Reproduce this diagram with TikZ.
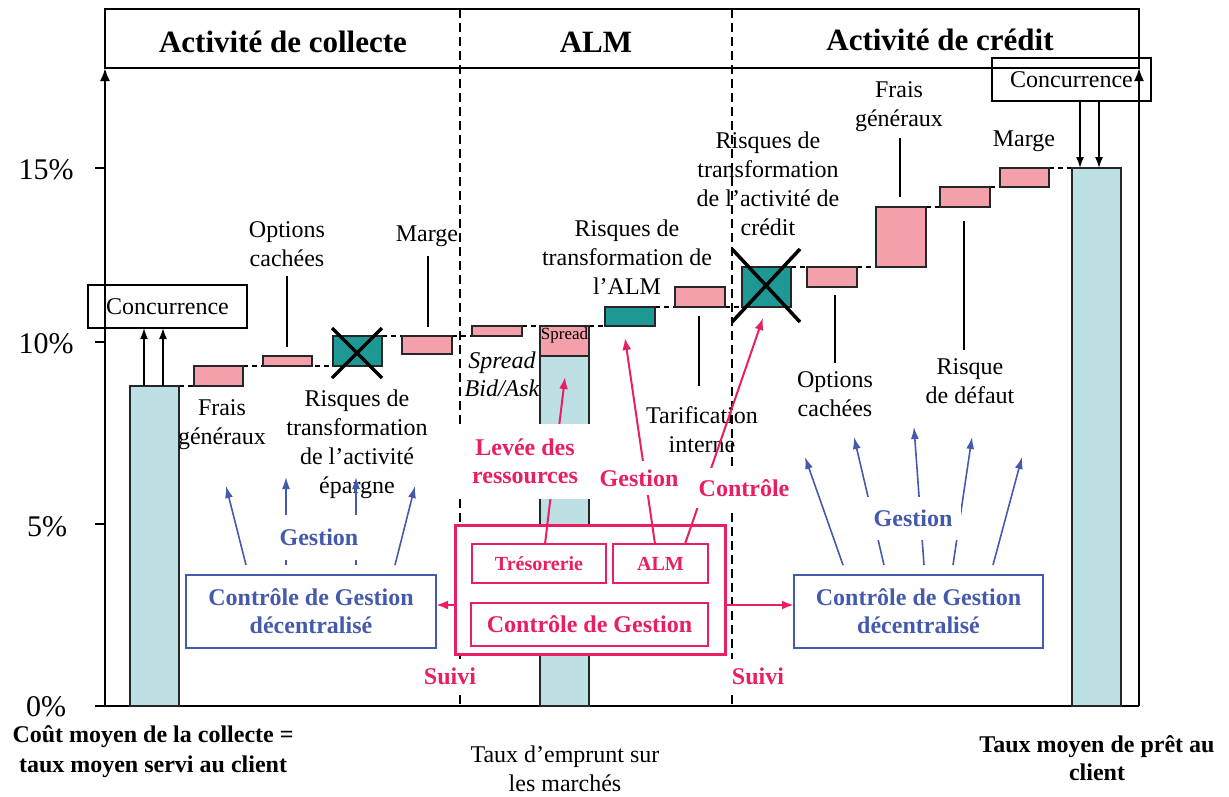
\documentclass[tikz,border=0pt]{standalone}
\usepackage{fontspec}
\setmainfont{Liberation Serif}
\usetikzlibrary{fit,arrows.meta,calc}
\definecolor{clight}{RGB}{188,224,228}
\definecolor{cpink}{RGB}{244,160,170}
\definecolor{cteal}{RGB}{30,152,148}
\definecolor{cmag}{RGB}{233,30,99}
\definecolor{cblue}{RGB}{68,90,172}
\begin{document}
\begin{tikzpicture}[x=1pt,y=-1pt,
  lbl/.style={font=\fontsize{24}{29}\selectfont, align=center, inner sep=0pt},
  ttl/.style={font=\fontsize{31}{36}\selectfont\bfseries, inner sep=0pt},
  ticklbl/.style={font=\fontsize{30}{36}\selectfont, inner sep=0pt},
  barbase/.style={draw=black!85, line width=1.2pt, inner sep=0pt, outer sep=0pt},
  lightbar/.style={barbase, fill=clight},
  pinkbar/.style={barbase, fill=cpink},
  tealbar/.style={barbase, fill=cteal},
  conn/.style={line width=1.4pt, dash pattern=on 5pt off 4pt},
  divider/.style={line width=1.5pt, dash pattern=on 9pt off 5pt},
  axisline/.style={line width=2.2pt, -{Latex[length=13pt,width=10pt]}},
  leader/.style={line width=1.3pt},
  cross/.style={line width=3.5pt},
  blk/.style={line width=1.6pt, -{Latex[length=11pt,width=8pt]}},
  bluearr/.style={draw=cblue, line width=1.6pt, -{Latex[length=12pt,width=8pt]}},
  pinkarr/.style={draw=cmag, line width=2pt, -{Latex[length=12pt,width=9pt]}},
  bluebox/.style={draw=cblue, line width=1.5pt, inner sep=0pt, outer sep=0pt},
  bluetext/.style={inner sep=0pt, text=cblue, font=\fontsize{24}{28}\selectfont\bfseries, align=center},
  pinkbox/.style={draw=cmag, line width=1.6pt, inner sep=0pt, outer sep=0pt},
  pinktext/.style={inner sep=0pt, text=cmag, font=\fontsize{20}{24}\selectfont\bfseries, align=center},
  concbox/.style={draw=black, line width=1.6pt, inner sep=0pt, outer sep=0pt},
  whitelbl/.style={fill=white, inner sep=0pt, font=\fontsize{24}{28}\selectfont\bfseries, align=center}
]
\useasboundingbox (0,0) rectangle (1229,796);

% header
\node[draw, line width=1.8pt, inner sep=0pt, outer sep=0pt, fit={(105,9)(1139,68)}] (header) {};
\node[ttl] (t1) at (283,41.5) {Activité de collecte};
\node[ttl] (t2) at (596,42) {ALM};
\node[ttl] (t3) at (940,39.5) {Activité de crédit};

% dividers
\coordinate (d1t) at (460,9);  \coordinate (d1b) at (460,706);
\coordinate (d2t) at (732,9);  \coordinate (d2b) at (732,706);
\draw[divider] (d1t) -- (d1b);
\draw[divider] (d2t) -- (d2b);

% axes
\coordinate (o) at (105,706);
\coordinate (ytop) at (105,68);
\coordinate (r0) at (1139,706);
\coordinate (rtop) at (1139,68);
\draw[line width=2.2pt] (o) -- (r0);
\draw[axisline] (o) -- (ytop);
\draw[axisline] (r0) -- (rtop);

% ticks
\foreach \yy/\name in {168/a,342/b,524/c,706/d}{
  \coordinate (tk\name) at (95,\yy);
  \draw[line width=1.8pt] (tk\name) -- (105,\yy);
}
\node[ticklbl] (l15) at (46,169.5) {15\%};
\node[ticklbl] (l10) at (46,344) {10\%};
\node[ticklbl] (l5)  at (47,527) {5\%};
\node[ticklbl] (l0)  at (46,707) {0\%};

% dashed connectors (drawn first, bars over them)
\draw[conn] (179,386) -- (194,386);
\draw[conn] (243,366) -- (333,366);
\draw[conn] (382,336) -- (402,336);
\draw[conn] (452,336) -- (472,336);
\draw[conn] (522,326) -- (540,326);
\draw[conn] (589,326) -- (605,326);
\draw[conn] (655,307) -- (675,307);
\draw[conn] (725,307) -- (742,307);
\draw[conn] (791,267) -- (807,267);
\draw[conn] (857,267) -- (876,267);
\draw[conn] (926,207) -- (940,207);
\draw[conn] (990,187) -- (1000,187);
\draw[conn] (1049,168) -- (1072,168);

% bars
\node[lightbar, fit={(130,386)(179,706)}] (blueL) {};
\node[pinkbar, fit={(194,366)(243,386)}] (fraisA) {};
\node[pinkbar, fit={(263,356)(312,366)}] (optAbar) {};
\node[tealbar, fit={(333,336)(382,366)}] (riskA) {};
\node[pinkbar, fit={(402,336)(452,354)}] (margeAbar) {};
\node[pinkbar, fit={(472,326)(522,336)}] (bidask) {};
\node[lightbar, fit={(540,356)(589,706)}] (blueM) {};
\node[pinkbar, fit={(540,326)(589,356)}, font=\fontsize{17}{19}\selectfont] (spreadM) {Spread};
\node[tealbar, fit={(605,307)(655,326)}] (almbar) {};
\node[pinkbar, fit={(675,287)(725,307)}] (tarifbar) {};
\node[tealbar, fit={(742,267)(791,307)}] (riskC) {};
\node[pinkbar, fit={(807,267)(857,287)}] (optCbar) {};
\node[pinkbar, fit={(876,207)(926,267)}] (fraisCbar) {};
\node[pinkbar, fit={(940,187)(990,207)}] (defautbar) {};
\node[pinkbar, fit={(1000,168)(1049,187)}] (margeCbar) {};
\node[lightbar, fit={(1072,168)(1121,706)}] (blueR) {};

% crosses
\draw[cross] (332,328) -- (382,378);
\draw[cross] (332,378) -- (382,328);
\draw[cross] (732,249) -- (800,322);
\draw[cross] (732,322) -- (800,249);

% concurrence boxes
\node[concbox, fit={(88,285)(247,328)}] (concL) {};
\node[lbl] (concLt) at (concL.center) {Concurrence};
\node[concbox, fit={(992,58)(1151,101)}] (concR) {};
\node[lbl] (concRt) at (concR.center) {Concurrence};
\draw[blk] ([xshift=14pt]blueL.north west) -- ([xshift=14pt]blueL.north west |- concL.south);
\draw[blk] ([xshift=33pt]blueL.north west) -- ([xshift=33pt]blueL.north west |- concL.south);
\draw[blk] ([xshift=8pt]blueR.north west |- concR.south) -- ([xshift=8pt]blueR.north west);
\draw[blk] ([xshift=27pt]blueR.north west |- concR.south) -- ([xshift=27pt]blueR.north west);

% leader lines
\draw[leader] (287,276) -- (287,347);
\draw[leader] (428,256) -- (428,327);
\draw[leader] (699,316) -- (699,386);
\draw[leader] (835,295) -- (835,363);
\draw[leader] (900,138) -- (900,197);
\draw[leader] (964,221) -- (964,350);

% labels
\node[lbl] (optA) at (287,244) {Options\\cachées};
\node[lbl] (margeA) at (427,236.5) {Marge};
\node[lbl] (fraisAl) at (222,425) {Frais\\généraux};
\node[lbl] (riskAl) at (357,444) {Risques de\\transformation\\de l’activité\\épargne};
\node[lbl, font=\fontsize{24}{28}\selectfont\itshape] (bidaskl) at (502,374) {Spread\\Bid/Ask};
\node[lbl] (almrisk) at (627,257) {Risques de\\transformation de\\l’ALM};
\node[lbl] (tarifl) at (702,430) {Tarification\\interne};
\node[lbl] (riskCl) at (768,184) {Risques de\\transformation\\de l’activité de\\crédit};
\node[lbl] (fraisCl) at (899,107) {Frais\\généraux};
\node[lbl] (margeCl) at (1024,141.5) {Marge};
\node[lbl] (optCl) at (835,394) {Options\\cachées};
\node[lbl] (defautl) at (970,381) {Risque\\de défaut};

% bottom labels
\node[lbl, font=\fontsize{24}{30}\selectfont\bfseries] (botL) at (153,752) {Coût moyen de la collecte =\\taux moyen servi au client};
\node[lbl] (botM) at (565,769) {Taux d’emprunt sur\\les marchés};
\node[lbl, font=\fontsize{24}{28}\selectfont\bfseries] (botR) at (1097,758) {Taux moyen de prêt au\\client};

% blue (decentralised) parts
\node[bluebox, fit={(186,575)(436,648)}] (cgL) {};
\node[bluetext] (cgLt) at (cgL.center) {Contrôle de Gestion\\décentralisé};
\node[bluebox, fit={(794,575)(1043,648)}] (cgR) {};
\node[bluetext] (cgRt) at (cgR.center) {Contrôle de Gestion\\décentralisé};

\coordinate (bl1s) at (246,565); \coordinate (bl1e) at (226,486);
\coordinate (bl2s) at (286,565); \coordinate (bl2e) at (286,477);
\coordinate (bl3s) at (356,565); \coordinate (bl3e) at (356,477);
\coordinate (bl4s) at (395,565); \coordinate (bl4e) at (415,486);
\foreach \i in {1,2,3,4}{ \draw[bluearr] (bl\i s) -- (bl\i e); }
\node[whitelbl, text=cblue, minimum width=92pt, minimum height=45pt] (gestBL) at (319,537) {Gestion};

\coordinate (br1s) at (843,565); \coordinate (br1e) at (805,457);
\coordinate (br2s) at (884,565); \coordinate (br2e) at (854,437);
\coordinate (br3s) at (924,565); \coordinate (br3e) at (914,427);
\coordinate (br4s) at (953,565); \coordinate (br4e) at (972,437);
\coordinate (br5s) at (993,565); \coordinate (br5e) at (1022,457);
\foreach \i in {1,2,3,4,5}{ \draw[bluearr] (br\i s) -- (br\i e); }
\node[whitelbl, text=cblue, minimum width=96pt, minimum height=43pt] (gestBR) at (913,518) {Gestion};

% central pink block
\node[draw=cmag, line width=3pt, fill=white, inner sep=0pt, outer sep=0pt, fit={(455,525)(725,654)}] (big) {};
\node[pinkbox, fit={(472,544)(606,583)}] (tres) {};
\node[pinktext] (trest) at (tres.center) {Trésorerie};
\node[pinkbox, fit={(613,544)(708,583)}] (almbox) {};
\node[pinktext] (almt) at (almbox.center) {ALM};
\node[pinkbox, fit={(471,603)(708,646)}] (cgC) {};
\node[pinktext, font=\fontsize{24}{28}\selectfont\bfseries] (cgCt) at (cgC.center) {Contrôle de Gestion};

\coordinate (levtip) at (565,377);
\coordinate (gesttip) at (625,338);
\coordinate (ctrltip) at (763,318);
\draw[pinkarr] ([xshift=6pt]tres.north) -- (levtip);
\draw[pinkarr] ([xshift=-5.5pt]almbox.north) -- (gesttip);
\draw[pinkarr] ([xshift=24.5pt]almbox.north) -- (ctrltip);

\node[whitelbl, text=cmag, minimum width=140pt, minimum height=75pt] (levee) at (525,461) {Levée des\\ressources};
\node[whitelbl, text=cmag, minimum width=84pt, minimum height=34pt] (gestP) at (639,478) {Gestion};
\node[whitelbl, text=cmag, minimum width=98pt, minimum height=40pt] (ctrlP) at (744,488) {Contrôle};

% suivi arrows
\draw[pinkarr, line width=2.8pt] ([yshift=-15.5pt]big.west) -- ([yshift=-15.5pt]big.west -| cgL.east);
\draw[pinkarr, line width=2.8pt] ([yshift=-15.5pt]big.east) -- ([yshift=-15.5pt]big.east -| cgR.west);
\node[whitelbl, text=cmag, minimum width=60pt, minimum height=36pt] (suiviL) at (450,676.5) {Suivi};
\node[whitelbl, text=cmag, minimum width=60pt, minimum height=36pt] (suiviR) at (758,676.5) {Suivi};
\end{tikzpicture}
\end{document}
